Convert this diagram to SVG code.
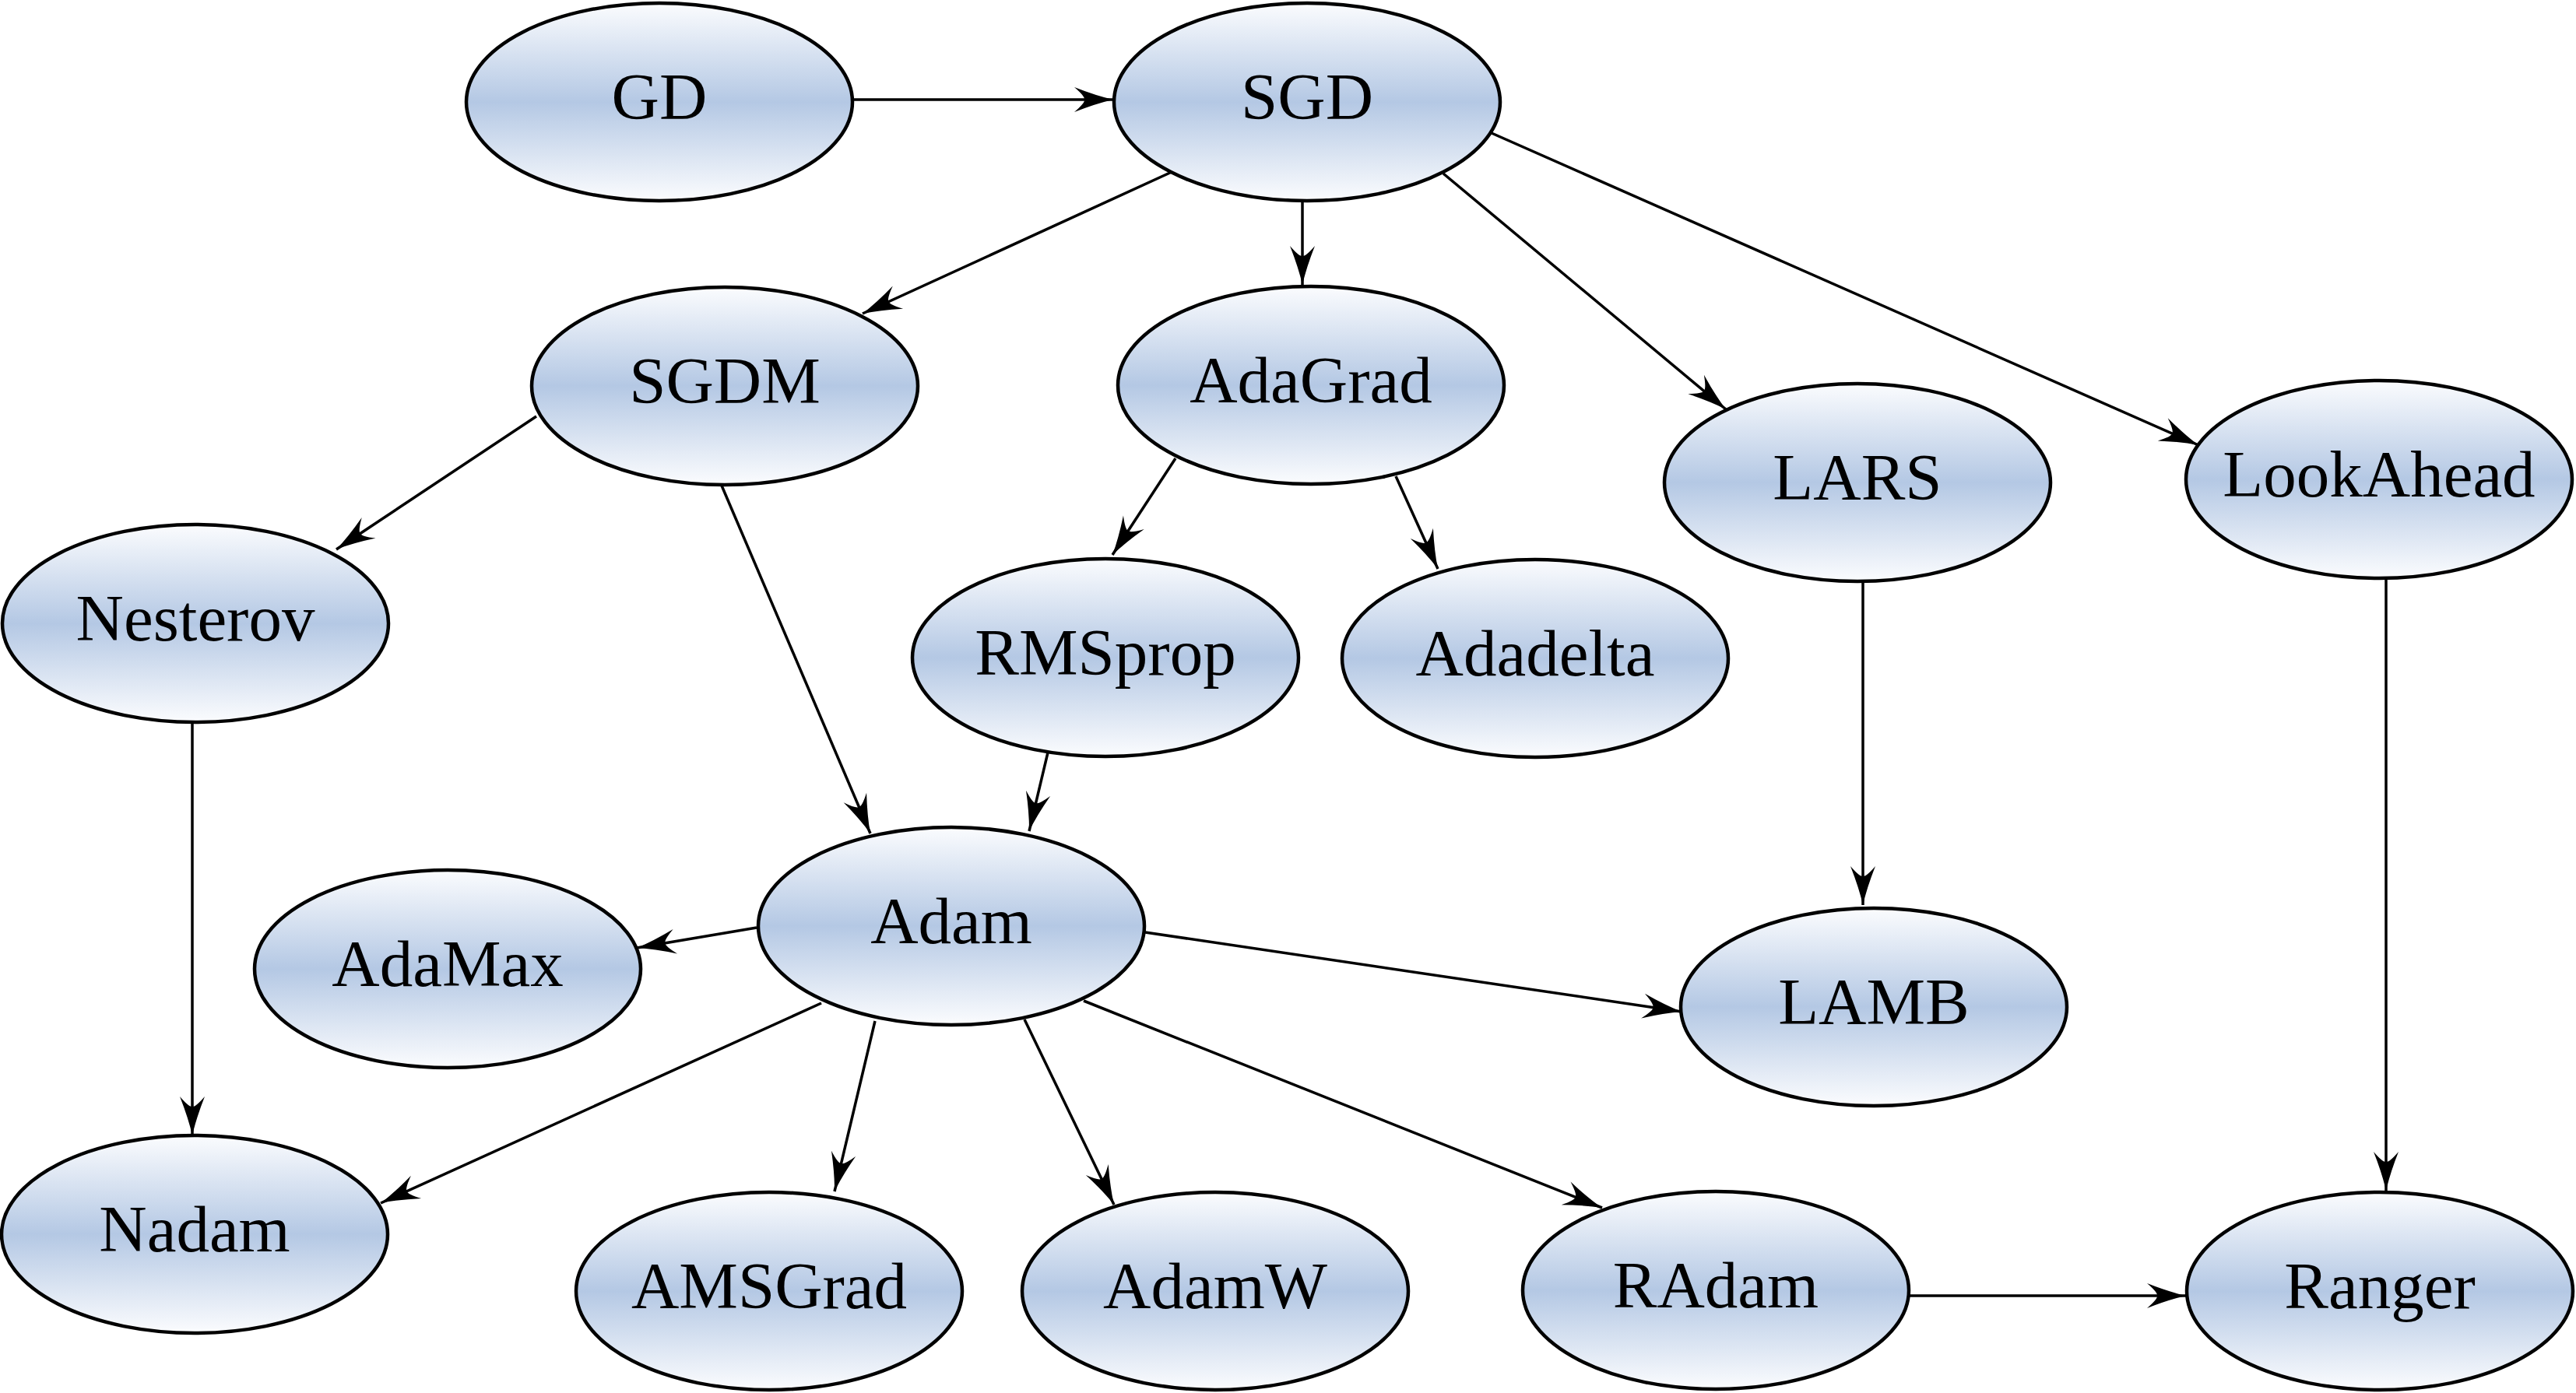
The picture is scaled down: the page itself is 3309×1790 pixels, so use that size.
<svg xmlns="http://www.w3.org/2000/svg" width="3309" height="1790" viewBox="0 0 3309 1790">
<defs>
<linearGradient id="g" x1="0" y1="0" x2="0" y2="1">
<stop offset="0" stop-color="#fbfcfe"/>
<stop offset="0.5" stop-color="#b4c8e4"/>
<stop offset="1" stop-color="#fbfcfe"/>
</linearGradient>
<marker id="arr" markerUnits="userSpaceOnUse" markerWidth="60" markerHeight="40" viewBox="-56 -20 60 40" refX="0" refY="0" orient="auto" overflow="visible">
<path d="M0,0 Q-22,-5 -50,-16 Q-36,-4 -37,0 Q-36,4 -50,16 Q-22,5 0,0 Z" fill="#000"/>
</marker>
<style>
.n ellipse{fill:url(#g);stroke:#000;stroke-width:4.5}
.n text{font-family:"Liberation Serif",serif;font-size:85px;text-anchor:middle;fill:#000}
#edges path{fill:none;stroke:#000;stroke-width:3.5;marker-end:url(#arr)}
</style>
</defs>
<rect width="3309" height="1790" fill="#fff"/>
<g id="edges">
<path d="M1095,128 L1430,128"/>
<path d="M1505,221 L1108,403"/>
<path d="M1673,258 L1673,366"/>
<path d="M1854,223 L2217,526"/>
<path d="M1916,171 L2824,572"/>
<path d="M689,535 L432,706"/>
<path d="M927,624 L1118,1071"/>
<path d="M1510,589 L1429,713"/>
<path d="M1793,612 L1847,731"/>
<path d="M2393,749 L2393,1163"/>
<path d="M3065,745 L3065,1530"/>
<path d="M247,929 L247,1459"/>
<path d="M1346,967 L1322,1068"/>
<path d="M972,1192 L818,1218"/>
<path d="M1471,1198 L2160,1300"/>
<path d="M1055,1289 L489,1546"/>
<path d="M1124,1312 L1072,1531"/>
<path d="M1316,1310 L1431,1548"/>
<path d="M1392,1286 L2058,1552"/>
<path d="M2453,1665 L2808,1665"/>
</g>
<g id="GD" class="n"><ellipse cx="847" cy="131" rx="248" ry="127"/><text x="847" y="153">GD</text></g>
<g id="SGD" class="n"><ellipse cx="1679" cy="131" rx="248" ry="127"/><text x="1679" y="153">SGD</text></g>
<g id="SGDM" class="n"><ellipse cx="931" cy="496" rx="248" ry="127"/><text x="931" y="518">SGDM</text></g>
<g id="AdaGrad" class="n"><ellipse cx="1684" cy="495" rx="248" ry="127"/><text x="1684" y="517">AdaGrad</text></g>
<g id="LARS" class="n"><ellipse cx="2386" cy="620" rx="248" ry="127"/><text x="2386" y="642">LARS</text></g>
<g id="LookAhead" class="n"><ellipse cx="3056" cy="616" rx="248" ry="127"/><text x="3056" y="638">LookAhead</text></g>
<g id="Nesterov" class="n"><ellipse cx="251" cy="801" rx="248" ry="127"/><text x="251" y="823">Nesterov</text></g>
<g id="RMSprop" class="n"><ellipse cx="1420" cy="845" rx="248" ry="127"/><text x="1420" y="867">RMSprop</text></g>
<g id="Adadelta" class="n"><ellipse cx="1972" cy="846" rx="248" ry="127"/><text x="1972" y="868">Adadelta</text></g>
<g id="Adam" class="n"><ellipse cx="1222" cy="1190" rx="248" ry="127"/><text x="1222" y="1212">Adam</text></g>
<g id="AdaMax" class="n"><ellipse cx="575" cy="1245" rx="248" ry="127"/><text x="575" y="1267">AdaMax</text></g>
<g id="LAMB" class="n"><ellipse cx="2407" cy="1294" rx="248" ry="127"/><text x="2407" y="1316">LAMB</text></g>
<g id="Nadam" class="n"><ellipse cx="250" cy="1586" rx="248" ry="127"/><text x="250" y="1608">Nadam</text></g>
<g id="AMSGrad" class="n"><ellipse cx="988" cy="1659" rx="248" ry="127"/><text x="988" y="1681">AMSGrad</text></g>
<g id="AdamW" class="n"><ellipse cx="1561" cy="1659" rx="248" ry="127"/><text x="1561" y="1681">AdamW</text></g>
<g id="RAdam" class="n"><ellipse cx="2204" cy="1658" rx="248" ry="127"/><text x="2204" y="1680">RAdam</text></g>
<g id="Ranger" class="n"><ellipse cx="3057" cy="1659" rx="248" ry="127"/><text x="3057" y="1681">Ranger</text></g>
</svg>
